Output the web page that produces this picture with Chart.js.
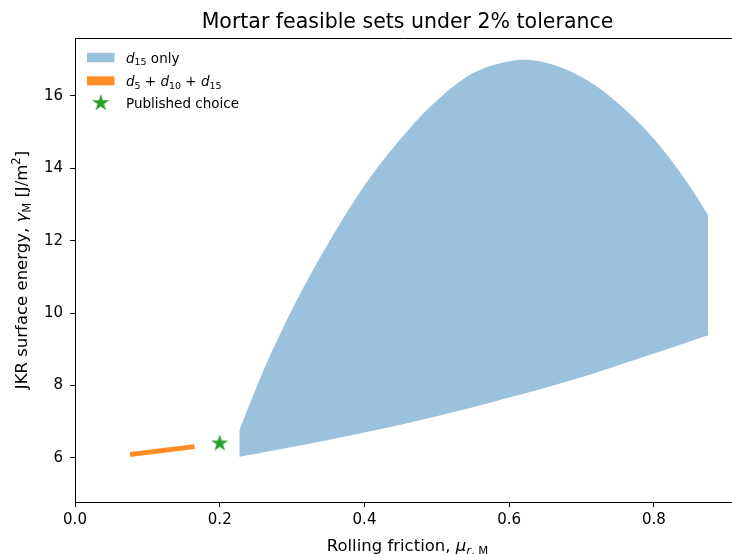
<!DOCTYPE html>
<html>
<head>
<meta charset="utf-8">
<script src="https://cdn.jsdelivr.net/npm/chart.js@4.4.0/dist/chart.umd.min.js"></script>
<style>
  html, body { margin: 0; padding: 0; background: #fff; }
  #wrap { width: 732px; height: 554px; position: relative; }
</style>
</head>
<body>
<div id="wrap"><canvas id="chart"></canvas></div>
<script>
// --- data ---
const upperX = [0.227, 0.2605, 0.3066, 0.3526, 0.3986, 0.4448, 0.4907, 0.5367, 0.5598, 0.5874, 0.6196, 0.6611, 0.7072, 0.7532, 0.7992, 0.8453, 0.8747];
const upperY = [6.76, 8.42, 10.36, 12.02, 13.49, 14.69, 15.70, 16.47, 16.72, 16.90, 17.00, 16.86, 16.44, 15.75, 14.83, 13.63, 12.71];

const lowerX = [0.227, 0.30, 0.40, 0.50, 0.60, 0.70, 0.80, 0.8747];
const lowerY = [6.03, 6.30, 6.70, 7.15, 7.67, 8.23, 8.88, 9.39];

const comboX = [0.076, 0.165];
const comboY = [6.09, 6.31];

const choiceX = [0.2];
const choiceY = [6.4];

const xTicks = [0.0, 0.2, 0.4, 0.6, 0.8];
const yTicks = [6, 8, 10, 12, 14, 16];

const COLORS = {
    blueFill: 'rgba(31, 119, 180, 0.45)',
    orange: 'rgba(255, 127, 14, 0.9)',
    green: '#2ca02c',
    axis: '#000'
};
const FONT = "'DejaVu Sans', sans-serif";
// the axes box runs a little past the right edge of the canvas; titles centre on it
const AXES_RIGHT = 740;

const toPts = (xs, ys) => xs.map((x, i) => ({ x, y: ys[i] }));

function makeStar(size, radius, color) {
    const c = document.createElement('canvas');
    c.width = size; c.height = size;
    const g = c.getContext('2d');
    const cx = size / 2, cy = size / 2, inner = radius * 0.382;
    g.beginPath();
    for (let i = 0; i < 10; i++) {
        const r = i % 2 === 0 ? radius : inner;
        const a = -Math.PI / 2 + i * Math.PI / 5;
        const px = cx + r * Math.cos(a), py = cy + r * Math.sin(a);
        i === 0 ? g.moveTo(px, py) : g.lineTo(px, py);
    }
    g.closePath();
    g.fillStyle = color;
    g.fill();
    return c;
}
const starImg = makeStar(20, 9, COLORS.green);

// rich text: parts = [{t, it, sub, sup}]
function richFont(p, size) {
    const s = (p.sub || p.sup) ? size * 0.7 : size;
    return (p.it ? 'italic ' : '') + s + 'px ' + FONT;
}
function richWidth(ctx, parts, size) {
    let w = 0;
    parts.forEach(p => { ctx.font = richFont(p, size); w += ctx.measureText(p.t).width; });
    return w;
}
function drawRich(ctx, parts, x, y, size) {
    ctx.textBaseline = 'alphabetic';
    ctx.textAlign = 'left';
    let cx = x;
    parts.forEach(p => {
        ctx.font = richFont(p, size);
        let dy = 0;
        if (p.sub) dy = size * 0.22;
        if (p.sup) dy = -size * 0.42;
        ctx.fillText(p.t, cx, y + dy);
        cx += ctx.measureText(p.t).width;
    });
    return cx - x;
}

const legendItems = [
    { kind: 'patch', color: COLORS.blueFill, parts: [{ t: 'd', it: true }, { t: '15', sub: true }, { t: ' only' }] },
    { kind: 'line', color: COLORS.orange, parts: [
        { t: 'd', it: true }, { t: '5', sub: true }, { t: ' + ' },
        { t: 'd', it: true }, { t: '10', sub: true }, { t: ' + ' },
        { t: 'd', it: true }, { t: '15', sub: true }] },
    { kind: 'star', color: COLORS.green, parts: [{ t: 'Published choice' }] }
];

const decorPlugin = {
    id: 'decor',
    afterDraw(chart) {
        const { ctx, chartArea } = chart;
        const midX = (chartArea.left + AXES_RIGHT) / 2;
        ctx.save();
        // top spine
        ctx.strokeStyle = COLORS.axis;
        ctx.lineWidth = 1;
        ctx.beginPath();
        ctx.moveTo(chartArea.left, chartArea.top + 0.5);
        ctx.lineTo(chartArea.right, chartArea.top + 0.5);
        ctx.stroke();

        ctx.fillStyle = '#000';
        // title
        ctx.font = '20.5px ' + FONT;
        ctx.textAlign = 'center';
        ctx.textBaseline = 'alphabetic';
        ctx.fillText('Mortar feasible sets under 2% tolerance', midX, 28.3);

        // x axis title
        const xParts = [{ t: 'Rolling friction, ' }, { t: 'μ', it: true }, { t: 'r', it: true, sub: true }, { t: ', M', sub: true }];
        const xs = 16.5;
        const xw = richWidth(ctx, xParts, xs);
        drawRich(ctx, xParts, midX - xw / 2, 551, xs);

        // y axis title
        const yParts = [{ t: 'JKR surface energy, ' }, { t: 'γ', it: true }, { t: 'M', sub: true }, { t: ' [J/m' }, { t: '2', sup: true }, { t: ']' }];
        const yw = richWidth(ctx, yParts, xs);
        ctx.save();
        ctx.translate(27, (chartArea.top + chartArea.bottom) / 2);
        ctx.rotate(-Math.PI / 2);
        drawRich(ctx, yParts, -yw / 2, 0, xs);
        ctx.restore();

        // legend
        const lx = 87, tx = 126, size = 13.5;
        const rows = [57.5, 80.8, 103];
        legendItems.forEach((it, i) => {
            const cy = rows[i];
            if (it.kind === 'patch') {
                ctx.fillStyle = it.color;
                ctx.fillRect(lx, cy - 4.7, 27.5, 9.4);
            } else if (it.kind === 'line') {
                ctx.fillStyle = it.color;
                ctx.fillRect(lx, cy - 4.5, 27.5, 9);
            } else {
                ctx.drawImage(starImg, lx + 13.75 - 10, cy - 10);
            }
            ctx.fillStyle = '#000';
            drawRich(ctx, it.parts, tx, cy + 5, size);
        });
        ctx.restore();
    }
};

new Chart(document.getElementById('chart'), {
    type: 'scatter',
    data: {
        datasets: [
            {
                label: 'lower',
                data: toPts(lowerX, lowerY),
                showLine: true,
                borderColor: 'transparent',
                borderWidth: 0,
                pointRadius: 0,
                cubicInterpolationMode: 'monotone',
                fill: false
            },
            {
                label: 'd15 only',
                data: toPts(upperX, upperY),
                showLine: true,
                borderColor: 'transparent',
                borderWidth: 0,
                pointRadius: 0,
                cubicInterpolationMode: 'monotone',
                backgroundColor: COLORS.blueFill,
                fill: '-1'
            },
            {
                label: 'd5 + d10 + d15',
                data: toPts(comboX, comboY),
                showLine: true,
                borderColor: COLORS.orange,
                borderWidth: 5,
                borderCapStyle: 'butt',
                pointRadius: 0,
                fill: false
            },
            {
                label: 'Published choice',
                data: toPts(choiceX, choiceY),
                showLine: false,
                pointStyle: starImg,
                pointRadius: 10
            }
        ]
    },
    options: {
        responsive: true,
        maintainAspectRatio: false,
        animation: false,
        events: [],
        layout: { autoPadding: false, padding: { left: 0, right: 0, top: 38, bottom: 0 } },
        plugins: {
            legend: { display: false },
            tooltip: { enabled: false },
            title: { display: false }
        },
        scales: {
            x: {
                type: 'linear',
                min: 0,
                max: 0.9078,
                afterFit: s => { s.height = 52; s.paddingLeft = 0; s.paddingRight = 0; },
                afterBuildTicks: s => { s.ticks = xTicks.map(v => ({ value: v })); },
                ticks: {
                    color: '#000',
                    padding: 4,
                    font: { family: FONT, size: 15 },
                    callback: v => v.toFixed(1)
                },
                grid: { display: true, drawOnChartArea: false, tickLength: 5, tickColor: '#000' },
                border: { display: true, color: COLORS.axis, width: 1 }
            },
            y: {
                type: 'linear',
                min: 4.78,
                max: 17.6,
                afterFit: s => { s.width = 75; s.paddingTop = 0; s.paddingBottom = 0; },
                afterBuildTicks: s => { s.ticks = yTicks.map(v => ({ value: v })); },
                ticks: {
                    color: '#000',
                    padding: 7,
                    font: { family: FONT, size: 15 },
                    callback: v => String(v)
                },
                grid: { display: true, drawOnChartArea: false, tickLength: 5, tickColor: '#000' },
                border: { display: true, color: COLORS.axis, width: 1 }
            }
        }
    },
    plugins: [decorPlugin]
});
</script>
</body>
</html>
